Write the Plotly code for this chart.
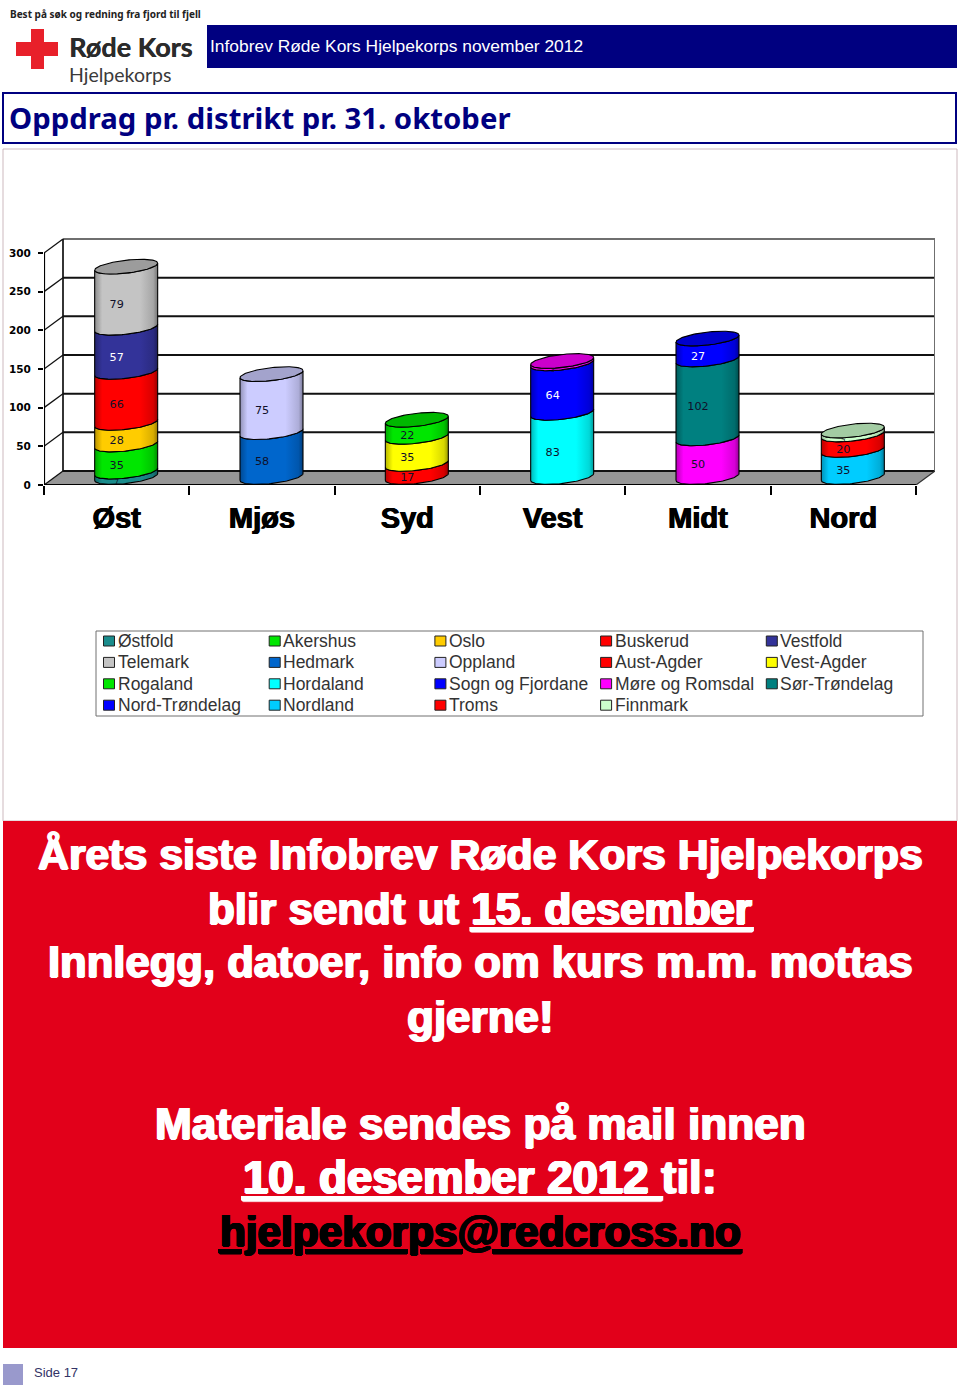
import numpy as np
import plotly.graph_objects as go

# ---------- data ----------
DISTRICTS = ["Øst", "Mjøs", "Syd", "Vest", "Midt", "Nord"]
COUNTIES = ["Østfold", "Akershus", "Oslo", "Buskerud", "Vestfold",
            "Telemark", "Hedmark", "Oppland", "Aust-Agder", "Vest-Agder",
            "Rogaland", "Hordaland", "Sogn og Fjordane", "Møre og Romsdal", "Sør-Trøndelag",
            "Nord-Trøndelag", "Nordland", "Troms", "Finnmark"]
COUNTY_COLORS = ["#1A8C8C", "#00E600", "#FFCC00", "#FF0000", "#333399",
                 "#C4C4C4", "#0066CC", "#CCCCFF", "#FF0000", "#FFFF00",
                 "#00E600", "#00FFFF", "#0000FF", "#FF00FF", "#008080",
                 "#0000FF", "#00CCFF", "#FF0000", "#CCFFCC"]
# stacks, bottom to top
OST_NAMES = ["Østfold", "Akershus", "Oslo", "Buskerud", "Vestfold", "Telemark"]
OST_VALUES = [7, 35, 28, 66, 57, 79]
MJOS_NAMES = ["Hedmark", "Oppland"]
MJOS_VALUES = [58, 75]
SYD_NAMES = ["Aust-Agder", "Vest-Agder", "Rogaland"]
SYD_VALUES = [17, 35, 22]
VEST_NAMES = ["Hordaland", "Sogn og Fjordane", "Møre og Romsdal"]
VEST_VALUES = [83, 64, 3]
MIDT_NAMES = ["Møre og Romsdal", "Sør-Trøndelag", "Nord-Trøndelag"]
MIDT_VALUES = [50, 102, 27]
NORD_NAMES = ["Nordland", "Troms", "Finnmark"]
NORD_VALUES = [35, 20, 5]
STACK_NAMES = [OST_NAMES, MJOS_NAMES, SYD_NAMES, VEST_NAMES, MIDT_NAMES, NORD_NAMES]
STACK_VALUES = [OST_VALUES, MJOS_VALUES, SYD_VALUES, VEST_VALUES, MIDT_VALUES, NORD_VALUES]
WHITE_LABELS = ["Vestfold", "Sogn og Fjordane", "Nord-Trøndelag"]
Y_TICKS = [0, 50, 100, 150, 200, 250, 300]

W, H = 960, 1387
X0, X1, XB = 44, 916, 935          # front axis start/end and back-wall right edge (px)
Y0, Y300, YT = 485, 253, 238       # value 0, value 300, back-wall top (px)
DX_PX, DY_PX = 19, 14              # depth of the 3D box (px)
PX_PER_CAT = (X1 - X0) / 6
PX_PER_VAL = (Y0 - Y300) / 300
xmax = -0.5 + (XB - X0) / PX_PER_CAT
ymax = (Y0 - YT) / PX_PER_VAL
dx, dy = DX_PX / PX_PER_CAT, DY_PX / PX_PER_VAL
COLOR_OF = dict(zip(COUNTIES, COUNTY_COLORS))


def px(x):
    return x / W


def py(y):
    return 1 - y / H


def shade(c, f):
    r, g, b = (int(c[i:i + 2], 16) for i in (1, 3, 5))
    return f"rgb({int(r * f)},{int(g * f)},{int(b * f)})"


shapes = []
ann = []


def rect(x0, y0, x1, y1, fill=None, line=None, lw=1):
    shapes.append(dict(type="rect", xref="paper", yref="paper", x0=px(x0), x1=px(x1), y0=py(y0), y1=py(y1),
                       fillcolor=fill or "rgba(0,0,0,0)", line=dict(color=line or "rgba(0,0,0,0)", width=lw if line else 0),
                       layer="below"))


def text(x, y, s, size, color, family="Liberation Sans", bold=False, anchor="left", shadow=None):
    ann.append(dict(xref="paper", yref="paper", x=px(x), y=py(y), text=s, showarrow=False,
                    xanchor=anchor, yanchor="middle", borderpad=0, borderwidth=0,
                    font=dict(size=size, color=color, family=family, weight=700 if bold else 400,
                              shadow=shadow or "none")))


# ---------- page furniture ----------
rect(207, 25, 957, 68, fill="#000080")
rect(3, 93, 956, 143, line="#000080", lw=2)
rect(3, 149, 957, 821, line="#CDB9BE", lw=1)
rect(3, 821, 957, 1348, fill="#E2001A")
rect(3, 1364, 23, 1385, fill="#9999CC")
rect(31, 29, 44, 69, fill="#E8202A")
rect(16, 42, 58, 56, fill="#E8202A")

text(10, 14, "Best på søk og redning fra fjord til fjell", 10, "#222222", "Noto Sans", True)
text(69, 46, "Røde Kors", 27, "#2B2B2B", "Lato", True, shadow="0.4px 0 0 #2B2B2B")
text(69, 74, "Hjelpekorps", 19.5, "#3A3A3A", "Lato")
text(210, 46, "Infobrev Røde Kors Hjelpekorps november 2012", 17.4, "#FFFFFF")
text(9, 118, "Oppdrag pr. distrikt pr. 31. oktober", 29.3, "#000080", "Noto Sans", True)
text(34, 1372, "Side 17", 13, "#333366")

THICK = "1px 0 0 {c}, -1px 0 0 {c}, 0 0.6px 0 {c}"
for y, s, c, fs in [(854, "Årets siste Infobrev Røde Kors Hjelpekorps", "#FFFFFF", 42.8),
                    (908, "blir sendt ut <u>15. desember</u>", "#FFFFFF", 43.9),
                    (962, "Innlegg, datoer, info om kurs m.m. mottas", "#FFFFFF", 43.6),
                    (1016, "gjerne!", "#FFFFFF", 44),
                    (1123, "Materiale sendes på mail innen", "#FFFFFF", 44.2),
                    (1177, "<u>10. desember 2012 </u>til:", "#FFFFFF", 45.6),
                    (1231, "<u>hjelpekorps@redcross.no</u>", "#000000", 42.3)]:
    text(480, y, s, fs, c, "Liberation Sans", True, "center", THICK.format(c=c))

# ---------- 3D box ----------
shapes.append(dict(type="path", xref="x", yref="y", layer="below", line=dict(width=0), fillcolor="#969696",
                   path=f"M -0.5,0 L {-0.5 + dx},{dy} L {xmax},{dy} L 5.5,0 Z"))
for v in Y_TICKS:
    col = "#6F6F6F" if v == 300 else "#111111"
    shapes.append(dict(type="line", xref="x", yref="y", layer="below", x0=-0.5 + dx, x1=xmax, y0=v + dy, y1=v + dy,
                       line=dict(color=col, width=2)))
    shapes.append(dict(type="line", xref="x", yref="y", layer="below", x0=-0.5, x1=-0.5 + dx, y0=v, y1=v + dy,
                       line=dict(color="#111111", width=1.3)))
shapes.append(dict(type="line", xref="x", yref="y", layer="below", x0=-0.5 + dx, x1=-0.5 + dx, y0=dy, y1=300 + dy,
                   line=dict(color="#111111", width=1.7)))
shapes.append(dict(type="line", xref="x", yref="y", layer="below", x0=xmax, x1=xmax, y0=dy, y1=300 + dy,
                   line=dict(color="#6F6F6F", width=2)))
shapes.append(dict(type="line", xref="x", yref="y", layer="below", x0=5.5, x1=xmax, y0=0, y1=dy,
                   line=dict(color="#333333", width=1.2)))
shapes.append(dict(type="line", xref="x", yref="y", layer="below", x0=-0.5, x1=-0.5, y0=0, y1=300,
                   line=dict(color="#000000", width=2.2)))
shapes.append(dict(type="line", xref="x", yref="y", layer="above", x0=-0.5, x1=5.5, y0=0, y1=0,
                   line=dict(color="#000000", width=2)))

# ---------- cylinders, from the values ----------
A = 31.5 / PX_PER_CAT      # half width
CX = 9.5 / PX_PER_CAT      # shift of the cylinder axis into the box
B = 6.5 / PX_PER_VAL       # ellipse semi-height
S = 3.5 / PX_PER_VAL       # tilt
LIFT = 8 / PX_PER_VAL      # ellipse centre above the floor line
t_front = np.linspace(np.pi, 2 * np.pi, 60)
t_all = np.linspace(0, 2 * np.pi, 120)


def arc(d, level, t):
    return d + CX + A * np.cos(t), level + LIFT + S * np.cos(t) + B * np.sin(t)


fig = go.Figure()
lab_x, lab_y, lab_t, lab_c, lab_s = [], [], [], [], []
tops = []
for d, (names, values) in enumerate(zip(STACK_NAMES, STACK_VALUES)):
    lo = 0.0
    for name, val in zip(names, values):
        hi = lo + val
        col = COLOR_OF[name]
        xa, ya = arc(d, lo, t_front)
        xb, yb = arc(d, hi, t_front[::-1])
        xs = np.r_[xa, xb, xa[0]]
        ys = np.r_[ya, yb, ya[0]]
        cs = [[0, shade(col, .72)], [.12, col], [.72, col], [.93, shade(col, .85)], [1, shade(col, .6)]]
        fig.add_trace(go.Scatter(x=xs, y=ys, mode="lines", fill="toself", name=name, showlegend=False,
                                 line=dict(color="#000000", width=1.1), hoverinfo="name",
                                 fillgradient=dict(type="horizontal", colorscale=cs,
                                                   start=d + CX - A, stop=d + CX + A)))
        lab_x.append(d)
        lab_y.append((lo + hi) / 2)
        lab_t.append(str(val))
        lab_c.append("#FFFFFF" if name in WHITE_LABELS else "#10102A")
        lab_s.append(7 if val < 8 else 11.2)
        lo = hi
    tops.append((lo, COLOR_OF[names[-1]]))

fig.add_trace(go.Scatter(x=lab_x, y=lab_y, text=lab_t, mode="text", showlegend=False, hoverinfo="skip",
                         textfont=dict(size=lab_s, color=lab_c, family="DejaVu Sans")))

for d, (level, col) in enumerate(tops):
    xs, ys = arc(d, level, t_all)
    fig.add_trace(go.Scatter(x=xs, y=ys, mode="lines", fill="toself", showlegend=False, hoverinfo="skip",
                             line=dict(color="#000000", width=1.1), fillcolor=shade(col, .8)))

# ---------- legend block ----------
rect(96, 631, 923, 716, fill="#FFFFFF", line="#707070", lw=1)
for i, (name, col) in enumerate(zip(COUNTIES, COUNTY_COLORS)):
    r, c = divmod(i, 5)
    x = 103.5 + c * 165.7
    y = 641 + r * 21.4
    rect(x, y - 5, x + 11, y + 5, fill=col, line="#222222", lw=1)
    text(x + 14, y, name, 17.5, "#333333")

fig.update_layout(
    width=W, height=H, autosize=False, margin=dict(l=0, r=0, t=0, b=0, pad=0, autoexpand=False),
    paper_bgcolor="#FFFFFF", plot_bgcolor="rgba(0,0,0,0)", showlegend=False,
    shapes=shapes, annotations=ann,
    xaxis=dict(domain=[px(X0), px(XB)], range=[-0.5, xmax], showgrid=False, zeroline=False, automargin=False,
               tickmode="array", tickvals=list(range(len(DISTRICTS))), ticktext=DISTRICTS, ticks="",
               ticklabelstandoff=13,
               tickfont=dict(size=29, family="Liberation Sans", color="#000000", weight=700,
                             shadow="0.6px 0 0 #000, -0.6px 0 0 #000"),
               minor=dict(tickmode="array", tickvals=[i - 0.5 for i in range(7)], ticks="outside",
                          ticklen=9, tickwidth=2, tickcolor="#000000", showgrid=False)),
    yaxis=dict(domain=[py(Y0), py(YT)], range=[0, ymax], showgrid=False, zeroline=False, automargin=False,
               tickmode="array", tickvals=Y_TICKS, ticks="outside", ticklen=5, tickwidth=2, tickcolor="#000000",
               ticklabelstandoff=5, tickfont=dict(size=10.5, family="DejaVu Sans", color="#000000", weight=700)),
)

fig.write_html("out.html", config=dict(displayModeBar=False),
               post_script="document.body.style.margin='0';document.documentElement.style.overflow='hidden';")
